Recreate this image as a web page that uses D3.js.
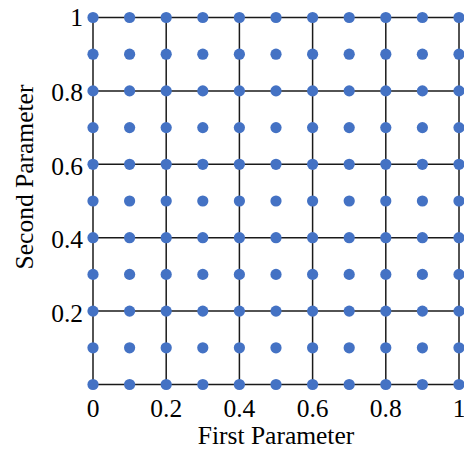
<!DOCTYPE html>
<html>
<head>
<meta charset="utf-8">
<script src="https://cdn.jsdelivr.net/npm/d3@7"></script>
<style>
  body { margin: 0; background: #fff; }
  svg { display: block; }
  text { font-family: "Liberation Serif", "Times New Roman", serif; fill: #000; }
</style>
</head>
<body>
<div id="chart"></div>
<script>
// Sample grid values (both parameters)
const xValues = [0, 0.1, 0.2, 0.3, 0.4, 0.5, 0.6, 0.7, 0.8, 0.9, 1];
const yValues = [0, 0.1, 0.2, 0.3, 0.4, 0.5, 0.6, 0.7, 0.8, 0.9, 1];
const gridTicks = [0, 0.2, 0.4, 0.6, 0.8, 1];
const xTickLabels = ["0", "0.2", "0.4", "0.6", "0.8", "1"];
const yTickValues = [0.2, 0.4, 0.6, 0.8, 1];
const yTickLabels = ["0.2", "0.4", "0.6", "0.8", "1"];

const width = 464, height = 450;
const margin = { top: 17.5, right: 5, bottom: 65.5, left: 93 };
const fontSize = 25.5;

const svg = d3.select("#chart").append("svg")
    .attr("width", width)
    .attr("height", height);

const x = d3.scaleLinear().domain([0, 1]).range([margin.left, width - margin.right]);
const y = d3.scaleLinear().domain([0, 1]).range([height - margin.bottom, margin.top]);

// grid lines
const grid = svg.append("g").attr("stroke", "#1a1a1a").attr("stroke-width", 1.5);
grid.selectAll(".vline").data(gridTicks).enter().append("line")
    .attr("x1", d => x(d)).attr("x2", d => x(d))
    .attr("y1", y(0)).attr("y2", y(1));
grid.selectAll(".hline").data(gridTicks).enter().append("line")
    .attr("x1", x(0)).attr("x2", x(1))
    .attr("y1", d => y(d)).attr("y2", d => y(d));

// points
const points = [];
xValues.forEach(a => yValues.forEach(b => points.push([a, b])));
svg.append("g").selectAll("circle").data(points).enter().append("circle")
    .attr("cx", d => x(d[0]))
    .attr("cy", d => y(d[1]))
    .attr("r", 5.6)
    .attr("fill", "#4472C4");

// x tick labels
svg.append("g").selectAll("text").data(gridTicks).enter().append("text")
    .attr("x", d => x(d))
    .attr("y", y(0) + 32)
    .attr("text-anchor", "middle")
    .attr("font-size", fontSize)
    .text((d, i) => xTickLabels[i]);

// y tick labels
svg.append("g").selectAll("text").data(yTickValues).enter().append("text")
    .attr("x", x(0) - 10)
    .attr("y", d => y(d) + (d === 1 ? 8.5 : 10.5))
    .attr("text-anchor", "end")
    .attr("font-size", fontSize)
    .text((d, i) => yTickLabels[i]);

// axis titles
svg.append("text")
    .attr("x", (x(0) + x(1)) / 2)
    .attr("y", 444)
    .attr("text-anchor", "middle")
    .attr("font-size", fontSize)
    .text("First Parameter");

svg.append("text")
    .attr("transform", "translate(33,177) rotate(-90)")
    .attr("text-anchor", "middle")
    .attr("font-size", fontSize)
    .text("Second Parameter");
</script>
</body>
</html>
